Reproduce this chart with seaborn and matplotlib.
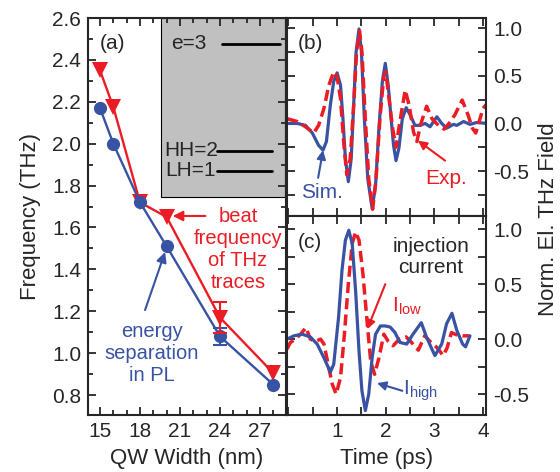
import numpy as np
import pandas as pd
import matplotlib
matplotlib.use("Agg")
import matplotlib.pyplot as plt
import seaborn as sns
from matplotlib.patches import Rectangle
from matplotlib.ticker import MultipleLocator, FixedLocator

# panel (a): frequency vs quantum well width
qw_width = [15, 16, 18, 20, 24, 28]
pl_freq = [2.17, 2.00, 1.72, 1.51, 1.08, 0.85]
pl_err = [0, 0, 0, 0, 0.04, 0]
beat_freq = [2.35, 2.175, 1.72, 1.65, 1.17, 0.905]
beat_err = [0, 0, 0, 0, 0.075, 0]

# panel (b): simulated vs experimental THz trace
t_sim = [-0.03, 0.18, 0.35, 0.49, 0.62, 0.71, 0.78, 0.86, 0.93, 1.00, 1.07, 1.12,
         1.17, 1.23, 1.29, 1.34, 1.39, 1.45, 1.50, 1.56, 1.63, 1.72, 1.79, 1.86,
         1.93, 1.99, 2.05, 2.11, 2.16, 2.21, 2.27, 2.34, 2.42, 2.50, 2.60, 2.71,
         2.81, 2.91, 3.05, 3.15, 3.25, 3.39, 3.46, 3.60, 3.73, 3.87, 4.08]
v_sim = [0.0, 0.0, -0.02, -0.1, -0.23, -0.28, -0.19, 0.19, 0.44, 0.53, 0.40, 0.05,
         -0.37, -0.61, -0.37, 0.19, 0.75, 0.99, 0.75, 0.05, -0.58, -0.89, -0.65, -0.05,
         0.44, 0.63, 0.40, 0.05, -0.23, -0.39, -0.26, 0.05, 0.165, 0.09, -0.02, -0.02,
         0.0, -0.035, 0.07, 0.0, -0.05, -0.01, -0.02, 0.02, -0.01, 0.01, 0.0]
t_exp = [-0.03, 0.18, 0.35, 0.52, 0.62, 0.73, 0.83, 0.93, 1.00, 1.07, 1.14, 1.20,
         1.27, 1.34, 1.40, 1.46, 1.51, 1.58, 1.65, 1.73, 1.80, 1.88, 1.96, 2.00,
         2.05, 2.14, 2.21, 2.29, 2.40, 2.48, 2.57, 2.64, 2.71, 2.84, 2.95, 3.08,
         3.20, 3.30, 3.42, 3.57, 3.69, 3.78, 3.85, 4.00, 4.07]
v_exp = [0.05, 0.02, -0.035, -0.1, -0.02, 0.16, 0.40, 0.54, 0.49, 0.26, -0.23, -0.54,
         -0.37, 0.19, 0.75, 0.97, 0.75, 0.05, -0.58, -0.9, -0.58, 0.05, 0.5, 0.54,
         0.33, -0.05, -0.25, 0.02, 0.35, 0.19, -0.09, -0.19, -0.02, 0.18, 0.05, -0.02,
         -0.06, 0.0, 0.09, 0.245, 0.09, -0.05, -0.1, 0.16, 0.2]

# panel (c): traces for high and low injection current
t_high = [-0.03, 0.11, 0.28, 0.45, 0.59, 0.73, 0.86, 0.93, 1.03, 1.10, 1.17, 1.24,
          1.31, 1.38, 1.45, 1.51, 1.58, 1.65, 1.72, 1.79, 1.89, 1.99, 2.09, 2.19,
          2.29, 2.43, 2.56, 2.73, 2.84, 3.01, 3.15, 3.25, 3.36, 3.46, 3.58, 3.64, 3.73]
v_high = [0.0, 0.03, 0.045, 0.02, -0.045, -0.17, -0.30, -0.23, 0.2, 0.625, 0.90, 0.99,
          0.87, 0.44, -0.11, -0.47, -0.65, -0.50, -0.17, 0.045, 0.12, 0.12, 0.11, 0.06,
          -0.03, -0.045, 0.045, 0.15, 0.015, -0.15, -0.045, 0.14, 0.235, 0.08, -0.045, -0.07, 0.03]
t_low = [-0.03, 0.04, 0.14, 0.25, 0.36, 0.45, 0.56, 0.66, 0.73, 0.83, 0.90, 0.98,
         1.07, 1.15, 1.23, 1.31, 1.38, 1.45, 1.53, 1.62, 1.69, 1.77, 1.86, 1.96,
         2.05, 2.15, 2.28, 2.42, 2.55, 2.67, 2.80, 2.93, 3.06, 3.18, 3.26, 3.35,
         3.45, 3.58, 3.72]
v_low = [-0.09, -0.03, 0.0, 0.045, 0.105, 0.0, -0.02, 0.0, -0.045, -0.26, -0.41, -0.50,
         -0.35, 0.045, 0.5, 0.87, 0.975, 0.90, 0.595, 0.14, -0.20, -0.32, -0.17, 0.045,
         -0.02, -0.06, 0.0, 0.02, -0.04, -0.1, 0.03, -0.03, -0.08, -0.15, -0.08, 0.06,
         0.04, 0.03, 0.03]

# schematic levels in the grey inset
level_names = ["e=3", "HH=2", "LH=1"]

BLUE = "#3953a4"
RED = "#ec1c24"
FS = 15

sns.set_style("ticks")
plt.rcParams["font.family"] = ["Liberation Sans", "DejaVu Sans"]
plt.rcParams["mathtext.fontset"] = "custom"
plt.rcParams["mathtext.rm"] = "Liberation Sans"
plt.rcParams["axes.unicode_minus"] = False
plt.rcParams["axes.linewidth"] = 1.5
plt.rcParams["font.size"] = FS

fig = plt.figure(figsize=(5.6, 4.72), dpi=100)
W, H = 560, 472
def box(x0, y0, x1, y1):
    return [x0 / W, 1 - y1 / H, (x1 - x0) / W, (y1 - y0) / H]

ax_a = fig.add_axes(box(88, 18, 286, 415))
ax_b = fig.add_axes(box(287, 18, 486, 216))
ax_c = fig.add_axes(box(287, 216, 486, 415))

# ---------------- panel (a)
df_a = pd.DataFrame({"w": qw_width, "pl": pl_freq, "beat": beat_freq})
sns.lineplot(data=df_a, x="w", y="beat", ax=ax_a, color=RED, lw=1.7,
             marker="v", markersize=11, markeredgewidth=0, sort=False)
sns.lineplot(data=df_a, x="w", y="pl", ax=ax_a, color=BLUE, lw=1.7,
             marker="o", markersize=9.5, markeredgewidth=0, sort=False)
pe = np.array(pl_err)
be = np.array(beat_err)
m = pe > 0
ax_a.errorbar(np.array(qw_width)[m], np.array(pl_freq)[m], yerr=pe[m], fmt="none",
              ecolor=BLUE, elinewidth=1.5, capsize=5, capthick=1.5)
m = be > 0
ax_a.errorbar(np.array(qw_width)[m], np.array(beat_freq)[m], yerr=be[m], fmt="none",
              ecolor=RED, elinewidth=1.5, capsize=5, capthick=1.5)

ax_a.set_xlim(14.1, 28.95)
ax_a.set_ylim(0.705, 2.6)
ax_a.xaxis.set_major_locator(MultipleLocator(3))
ax_a.xaxis.set_minor_locator(MultipleLocator(1))
ax_a.yaxis.set_major_locator(MultipleLocator(0.2))
ax_a.yaxis.set_minor_locator(MultipleLocator(0.1))
ax_a.yaxis.set_major_formatter(plt.FormatStrFormatter("%.1f"))
ax_a.set_xlabel("QW Width (nm)", fontsize=16, labelpad=5)
ax_a.set_ylabel("Frequency (THz)", fontsize=16, labelpad=8)

ax_a.add_patch(Rectangle((0.369, 0.549), 0.626, 0.451, transform=ax_a.transAxes,
                         facecolor="#c0c0c0", edgecolor="black", lw=0.8, zorder=0.5))
lev_y = [0.935, 0.665, 0.615]
lev_x0 = [0.677, 0.652, 0.652]
lev_x1 = [0.97, 0.929, 0.929]
lev_tx = [0.601, 0.655, 0.645]
for name, y, x0, x1, tx in zip(level_names, lev_y, lev_x0, lev_x1, lev_tx):
    ax_a.plot([x0, x1], [y, y], transform=ax_a.transAxes, color="black", lw=2)
    ax_a.text(tx, y, name, transform=ax_a.transAxes, ha="right", va="center", fontsize=FS)

ax_a.text(0.06, 0.935, "(a)", transform=ax_a.transAxes, ha="left", va="center", fontsize=FS)
ax_a.text(25.35, 1.493, "beat\nfrequency\nof THz\ntraces", color=RED, ha="center",
          va="center", fontsize=14.5, linespacing=1.2)
ax_a.annotate("", xy=(20.45, 1.655), xytext=(22.9, 1.655),
              arrowprops=dict(arrowstyle="-|>", color=RED, lw=1.5, mutation_scale=15,
                              shrinkA=0, shrinkB=0))
ax_a.text(18.9, 1.0, "energy\nseparation\nin PL", color=BLUE, ha="center",
          va="center", fontsize=14.5, linespacing=1.2)
ax_a.annotate("", xy=(19.88, 1.483), xytext=(18.38, 1.206),
              arrowprops=dict(arrowstyle="-|>", color=BLUE, lw=1.5, mutation_scale=15,
                              shrinkA=0, shrinkB=0))

# ---------------- panels (b) and (c)
dash = (0, (3.2, 1.5))
sns.lineplot(x=t_sim, y=v_sim, ax=ax_b, color=BLUE, lw=2.3, sort=False)
sns.lineplot(x=t_exp, y=v_exp, ax=ax_b, color=RED, lw=2.5, linestyle=dash, sort=False)
sns.lineplot(x=t_low, y=v_low, ax=ax_c, color=RED, lw=2.5, linestyle=dash, sort=False)
sns.lineplot(x=t_high, y=v_high, ax=ax_c, color=BLUE, lw=2.3, sort=False)

ax_b.set_ylim(-0.97, 1.105)
ax_c.set_ylim(-0.69, 1.12)
for ax in (ax_b, ax_c):
    ax.set_xlim(-0.03, 4.06)
    ax.xaxis.set_major_locator(FixedLocator([1, 2, 3, 4]))
    ax.xaxis.set_minor_locator(MultipleLocator(0.5))
    ax.yaxis.set_major_locator(MultipleLocator(0.5))
    ax.yaxis.set_minor_locator(MultipleLocator(0.25))
    ax.yaxis.set_major_formatter(plt.FormatStrFormatter("%.1f"))
    ax.set_ylabel("")
    ax.tick_params(axis="y", labelleft=False, labelright=True)
ax_b.tick_params(axis="x", labelbottom=False)
ax_c.set_xlabel("Time (ps)", fontsize=16, labelpad=5)

for ax in (ax_a, ax_b, ax_c):
    ax.tick_params(which="both", direction="in", top=True, right=True, left=True,
                   bottom=True, width=1.3, labelsize=FS, pad=5)
    ax.tick_params(which="major", length=6)
    ax.tick_params(which="minor", length=6)
ax_a.tick_params(which="minor", length=3.5)

ax_b.text(0.2, 0.84, "(b)", ha="left", va="center", fontsize=FS)
ax_b.text(0.68, -0.726, "Sim.", color=BLUE, ha="center", va="center", fontsize=FS)
ax_b.annotate("", xy=(0.71, -0.28), xytext=(0.61, -0.57),
              arrowprops=dict(arrowstyle="-|>", color=BLUE, lw=1.5, mutation_scale=13,
                              shrinkA=0, shrinkB=0))
ax_b.text(3.24, -0.58, "Exp.", color=RED, ha="center", va="center", fontsize=FS)
ax_b.annotate("", xy=(2.66, -0.18), xytext=(3.22, -0.39),
              arrowprops=dict(arrowstyle="-|>", color=RED, lw=1.5, mutation_scale=13,
                              shrinkA=0, shrinkB=0))

ax_c.text(0.2, 0.883, "(c)", ha="left", va="center", fontsize=FS)
ax_c.text(2.93, 0.748, "injection\ncurrent", ha="center", va="center", fontsize=FS,
          linespacing=1.15)
ax_c.text(2.13, 0.3, r"I$_{\rm low}$", color=RED, ha="left", va="center", fontsize=FS)
ax_c.annotate("", xy=(1.62, 0.09), xytext=(1.99, 0.5),
              arrowprops=dict(arrowstyle="-|>", color=RED, lw=1.5, mutation_scale=13,
                              shrinkA=0, shrinkB=0))
ax_c.text(2.36, -0.47, r"I$_{\rm high}$", color=BLUE, ha="left", va="center", fontsize=FS)
ax_c.annotate("", xy=(1.82, -0.4), xytext=(2.34, -0.47),
              arrowprops=dict(arrowstyle="-|>", color=BLUE, lw=1.5, mutation_scale=13,
                              shrinkA=0, shrinkB=0))

fig.text(548 / W, 1 - 219 / H, "Norm. El. THz Field", rotation=90, ha="center",
         va="center", fontsize=16)

fig.savefig("out.png", dpi=100)
